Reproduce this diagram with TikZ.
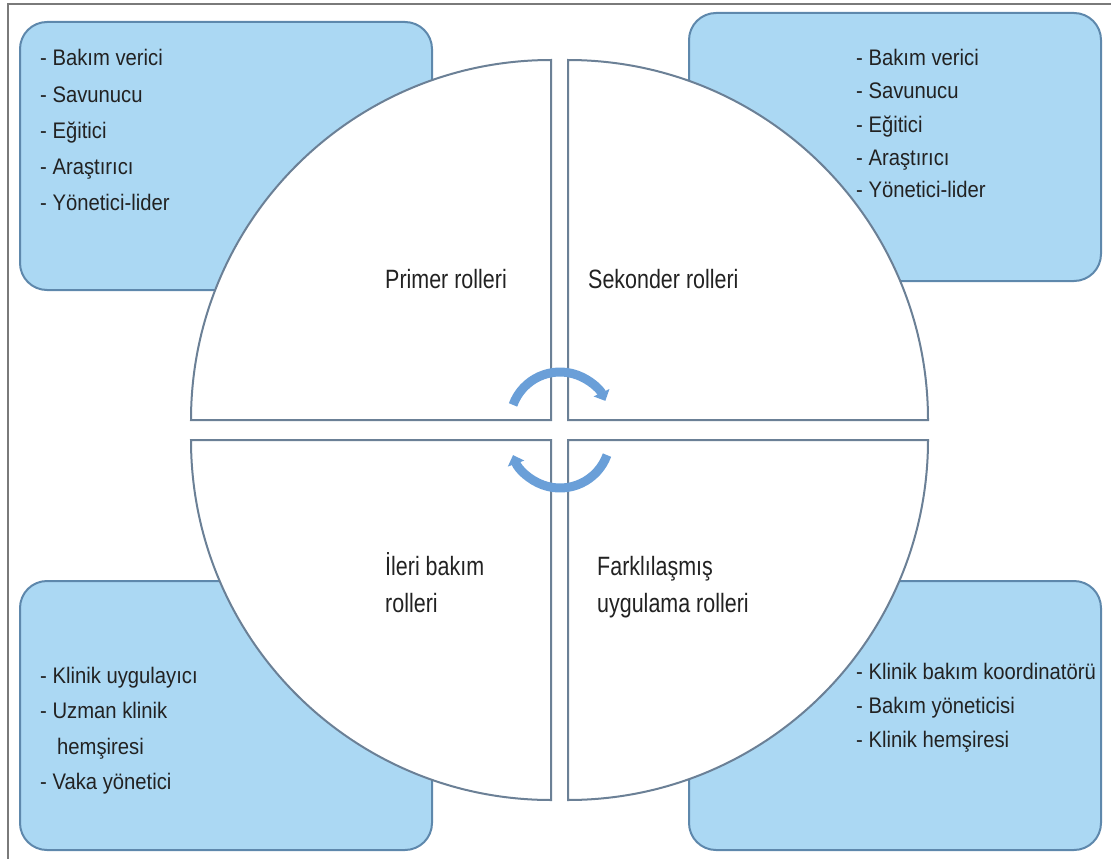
\documentclass[tikz,border=0pt]{standalone}
\usepackage{fontspec}
\setmainfont{Liberation Sans}
\newfontfamily\lblfont{Liberation Sans}[FakeStretch=0.81]
\newfontfamily\itemfont{Liberation Sans}[FakeStretch=0.9]
\usetikzlibrary{arrows.meta}
\definecolor{boxfill}{HTML}{ABD8F3}
\definecolor{boxline}{HTML}{5E88AC}
\definecolor{quadline}{HTML}{6B8096}
\definecolor{arrowblue}{HTML}{6A9FD8}
\definecolor{txt}{HTML}{222222}
\definecolor{framegray}{HTML}{7A7A7A}
\begin{document}
\begin{tikzpicture}[x=1pt,y=1pt,yscale=-1,
  rolebox/.style={fill=boxfill,draw=boxline,line width=2pt,rounded corners=27pt},
  quad/.style={fill=white,draw=quadline,line width=2pt},
  item/.style={anchor=base west,inner sep=0pt,text=txt,font=\itemfont\fontsize{22.5}{26}\selectfont},
  lbl/.style={anchor=base west,inner sep=0pt,text=txt,font=\lblfont\fontsize{26.5}{30}\selectfont},
  cyc/.style={draw=arrowblue,line width=9pt,-{Triangle[length=9pt,width=17pt]}}]
\useasboundingbox (0,0) rectangle (1111,859);
\draw[framegray,line width=1.5pt] (8,859) -- (8,4) -- (1111,4);
% boxes
\draw[rolebox] (20,22) rectangle (432,290);
\draw[rolebox] (689,13) rectangle (1101,281);
\draw[rolebox] (20,581) rectangle (432,850);
\draw[rolebox] (689,581) rectangle (1101,850);
% quadrants
\draw[quad] (551,420) -- (191,420) arc[start angle=180,end angle=270,radius=360] -- cycle;
\draw[quad] (568,420) -- (568,60) arc[start angle=270,end angle=360,radius=360] -- cycle;
\draw[quad] (551,440) -- (551,800) arc[start angle=90,end angle=180,radius=360] -- cycle;
\draw[quad] (568,440) -- (928,440) arc[start angle=0,end angle=90,radius=360] -- cycle;
% cycle arrows
\coordinate (cu) at (560,422);
\coordinate (cl) at (560,438);
\draw[cyc] ([shift={(200:50)}]cu) arc[start angle=200,end angle=335,radius=50];
\draw[cyc] ([shift={(20:50)}]cl) arc[start angle=20,end angle=160,radius=50];
% quadrant labels
\node[lbl] (primer) at (385,288) {Primer rolleri};
\node[lbl] (sekonder) at (588,288) {Sekonder rolleri};
\node[lbl] (ileri1) at (385,575) {İleri bakım};
\node[lbl] (ileri2) at (385,612) {rolleri};
\node[lbl] (fark1) at (597,575) {Farklılaşmış};
\node[lbl] (fark2) at (597,612) {uygulama rolleri};
% top-left list
\node[item] (tl1) at (40,66) {- Bakım verici};
\node[item] (tl2) at (40,102) {- Savunucu};
\node[item] (tl3) at (40,138) {- Eğitici};
\node[item] (tl4) at (40,174) {- Araştırıcı};
\node[item] (tl5) at (40,210) {- Yönetici-lider};
% top-right list
\node[item] (tr1) at (856,66) {- Bakım verici};
\node[item] (tr2) at (856,99) {- Savunucu};
\node[item] (tr3) at (856,132) {- Eğitici};
\node[item] (tr4) at (856,165) {- Araştırıcı};
\node[item] (tr5) at (856,197) {- Yönetici-lider};
% bottom-left list
\node[item] (bl1) at (40,683) {- Klinik uygulayıcı};
\node[item] (bl2) at (40,718) {- Uzman klinik};
\node[item] (bl3) at (57,754) {hemşiresi};
\node[item] (bl4) at (40,789) {- Vaka yönetici};
% bottom-right list
\node[item] (br1) at (856,679) {- Klinik bakım koordinatörü};
\node[item] (br2) at (856,713) {- Bakım yöneticisi};
\node[item] (br3) at (856,747) {- Klinik hemşiresi};
\end{tikzpicture}
\end{document}
